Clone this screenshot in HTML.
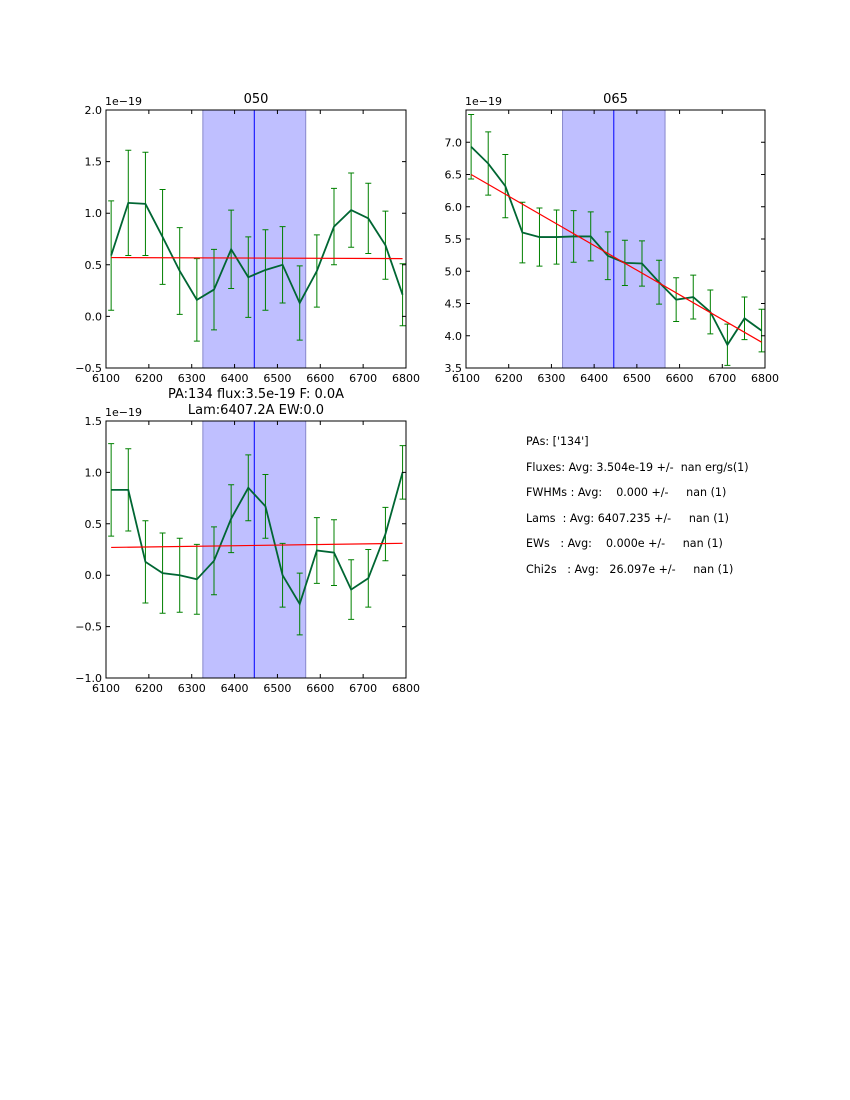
<!DOCTYPE html>
<html><head><meta charset="utf-8">
<style>
body{margin:0;background:#fff;}
svg text{font-family:"DejaVu Sans","Liberation Sans",sans-serif;}
#stats{position:absolute;left:526px;top:429px;font:11.1px "DejaVu Sans","Liberation Sans",sans-serif;white-space:pre;line-height:25.6px;color:#000;}
</style></head>
<body>
<svg id="fig" width="850" height="1100" style="position:absolute;left:0;top:0"></svg>
<div id="stats">PAs: ['134']
Fluxes: Avg: 3.504e-19 +/-  nan erg/s(1)
FWHMs : Avg:    0.000 +/-     nan (1)
Lams  : Avg: 6407.235 +/-     nan (1)
EWs   : Avg:    0.000e +/-     nan (1)
Chi2s   : Avg:   26.097e +/-     nan (1)</div>
<script>
const wavelengths = [6112,6152,6192,6232,6272,6312,6352,6392,6432,6472,6512,6552,6592,6632,6672,6712,6752,6792];
const flux050 = [0.59,1.10,1.09,0.77,0.44,0.16,0.26,0.65,0.38,0.45,0.50,0.13,0.44,0.87,1.03,0.95,0.69,0.21];
const err050 = [0.53,0.51,0.50,0.46,0.42,0.40,0.39,0.38,0.39,0.39,0.37,0.36,0.35,0.37,0.36,0.34,0.33,0.30];
const fit050 = [0.57,0.56];
const flux065 = [6.93,6.67,6.32,5.60,5.53,5.53,5.54,5.54,5.24,5.13,5.12,4.83,4.56,4.60,4.37,3.86,4.27,4.08];
const err065 = [0.50,0.49,0.49,0.47,0.45,0.42,0.40,0.38,0.37,0.35,0.35,0.34,0.34,0.34,0.34,0.32,0.33,0.33];
const fit065 = [6.50,3.90];
const fluxSum = [0.83,0.83,0.13,0.02,0.00,-0.04,0.14,0.55,0.85,0.67,0.00,-0.28,0.24,0.22,-0.14,-0.03,0.40,1.00];
const errSum = [0.45,0.40,0.40,0.39,0.36,0.34,0.33,0.33,0.32,0.31,0.31,0.30,0.32,0.32,0.29,0.28,0.26,0.26];
const fitSum = [0.27,0.31];
const xTicks = [6100,6200,6300,6400,6500,6600,6700,6800];
const yTicks050 = [-0.5,0.0,0.5,1.0,1.5,2.0];
const yTicks065 = [3.5,4.0,4.5,5.0,5.5,6.0,6.5,7.0];
const yTicksSum = [-1.0,-0.5,0.0,0.5,1.0,1.5];
const bandRange = [6326,6566];
const lineCenter = [6446];

const NS='http://www.w3.org/2000/svg';
const svg=document.getElementById('fig');
function mk(tag,attrs,parent){const e=document.createElementNS(NS,tag);for(const k in attrs)e.setAttribute(k,attrs[k]);(parent||svg).appendChild(e);return e;}

function panel(name,L,T,W,H,ymin,ymax,yTicks,flux,err,fit,title){
  const g=mk('g',{});
  
  
  const xs=v=>L+(v-6100)/700*W;
  const ys=v=>T+H-(v-ymin)/(ymax-ymin)*H;
  const band=mk('rect',{x:xs(bandRange[0]),y:T,width:xs(bandRange[1])-xs(bandRange[0]),height:H,fill:'#bfbfff',stroke:'#8888cc','stroke-width':1},g);
  
  
  const cl=mk('line',{x1:xs(lineCenter[0]),x2:xs(lineCenter[0]),y1:T,y2:T+H,stroke:'#0000ff','stroke-width':1},g);
  
  
  for(let i=0;i<flux.length;i++){
    const x=xs(wavelengths[i]),y1=ys(flux[i]-err[i]),y2=ys(flux[i]+err[i]);
    const eb=mk('path',{d:`M${x},${y1}V${y2}M${x-3},${y1}H${x+3}M${x-3},${y2}H${x+3}`,stroke:'#008000','stroke-width':1,fill:'none'},g);
    
    
  }
  const pts=flux.map((v,i)=>xs(wavelengths[i])+','+ys(v)).join(' ');
  const pl=mk('polyline',{points:pts,fill:'none',stroke:'#006633','stroke-width':1.8},g);
  
  
  const f=mk('line',{x1:xs(wavelengths[0]),x2:xs(wavelengths[wavelengths.length-1]),y1:ys(fit[0]),y2:ys(fit[1]),stroke:'#ff0000','stroke-width':1.2},g);
  
  
  mk('rect',{x:L,y:T,width:W,height:H,fill:'none',stroke:'#000','stroke-width':1},g);
  xTicks.forEach(t=>{
    const x=xs(t);
    mk('path',{d:`M${x},${T+H}v-4M${x},${T}v4`,stroke:'#000','stroke-width':1},g);
    const tx=mk('text',{x:x,y:T+H+14,'font-size':11,'text-anchor':'middle'},g);
    tx.textContent=t;
    
    
  });
  yTicks.forEach(t=>{
    const y=ys(t);
    mk('path',{d:`M${L},${y}h4M${L+W},${y}h-4`,stroke:'#000','stroke-width':1},g);
    const tx=mk('text',{x:L-4,y:y+4,'font-size':11,'text-anchor':'end'},g);
    tx.textContent=t.toFixed(1).replace('-','\u2212');
    
    
  });
  const off=mk('text',{x:L-1,y:T-5,'font-size':11},g);
  off.textContent='1e\u221219';
  
  
  title.forEach((s,k)=>{
    const tt=mk('text',{x:L+W/2,y:T-7-(title.length-1-k)*16,'font-size':13,'text-anchor':'middle'},g);
    tt.textContent=s;
    
    
  });
}
panel('panel-050',106,110,300,258,-0.5,2.0,yTicks050,flux050,err050,fit050,['050']);
panel('panel-065',466,110,299,258,3.5,7.5,yTicks065,flux065,err065,fit065,['065']);
panel('panel-combined',106,421,300,257,-1.0,1.5,yTicksSum,fluxSum,errSum,fitSum,['PA:134 flux:3.5e-19 F: 0.0A','Lam:6407.2A EW:0.0']);
</script>
</body></html>
